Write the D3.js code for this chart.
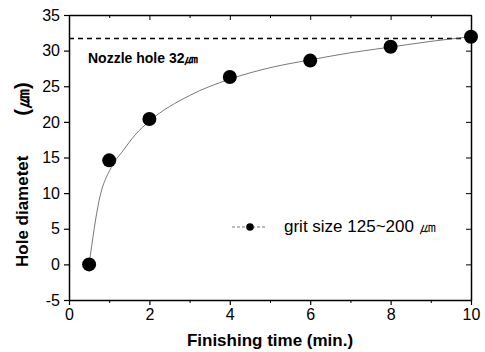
<!DOCTYPE html>
<html>
<head>
<meta charset="utf-8">
<script src="https://cdn.jsdelivr.net/npm/d3@7"></script>
<style>
  body { margin: 0; background: #fff; }
  svg text { font-family: "Liberation Sans", Arial, sans-serif; fill: #000; }
  .axis path, .axis line { stroke: #000; }
  .axis path { stroke-width: 1.5; }
</style>
</head>
<body>
<svg id="chart" width="485" height="352"></svg>
<script>
// measured points (finishing time in min, hole diameter in um)
var times = [0.5, 1, 2, 4, 6, 8, 10];
var diameters = [0, 14.6, 20.4, 26.3, 28.6, 30.55, 31.95];

// fitted curve
var fitTimes = [0.5, 0.75, 1.05, 1.35, 1.65, 2, 3, 4, 5, 6, 7, 8, 9, 10];
var fitValues = [0, 9.0, 13.6, 16.0, 18.2, 20.1, 23.7, 26.0, 27.6, 28.7, 29.7, 30.5, 31.3, 31.95];

var nozzleHole = 31.7;
var xTicks = [0, 2, 4, 6, 8, 10];
var xMinor = [1, 3, 5, 7, 9];
var yTicks = [-5, 0, 5, 10, 15, 20, 25, 30, 35];

var svg = d3.select("#chart"),
    plotLeft = 69, plotRight = 471, plotTop = 15, plotBottom = 300;

var x = d3.scaleLinear().domain([0, 10]).range([plotLeft, plotRight]);
var y = d3.scaleLinear().domain([-5, 35]).range([plotBottom, plotTop]);

// axes (left/bottom outward, top/right mirrored inward)
svg.append("g")
    .attr("class", "axis")
    .attr("transform", "translate(0," + plotBottom + ")")
    .call(d3.axisBottom(x).tickValues(xTicks).tickSizeInner(5).tickSizeOuter(0).tickPadding(4))
    .call(g => g.selectAll("text").attr("font-size", 16))
    .call(g => g.selectAll("line").attr("stroke-width", 1.2));
svg.append("g")
    .attr("class", "axis")
    .attr("transform", "translate(0," + plotBottom + ")")
    .call(d3.axisBottom(x).tickValues(xMinor).tickSize(3).tickFormat(""))
    .call(g => g.select("path").remove());

svg.append("g")
    .attr("class", "axis")
    .attr("transform", "translate(0," + plotTop + ")")
    .call(d3.axisTop(x).tickValues(xTicks).tickSizeInner(-5).tickSizeOuter(0).tickFormat(""));
svg.append("g")
    .attr("class", "axis")
    .attr("transform", "translate(0," + plotTop + ")")
    .call(d3.axisTop(x).tickValues(xMinor).tickSize(-3).tickFormat(""))
    .call(g => g.select("path").remove());

svg.append("g")
    .attr("class", "axis")
    .attr("transform", "translate(" + plotLeft + ",0)")
    .call(d3.axisLeft(y).tickValues(yTicks).tickFormat(d => String(d))
        .tickSizeInner(5).tickSizeOuter(0).tickPadding(4))
    .call(g => g.selectAll("text").attr("font-size", 16))
    .call(g => g.selectAll("line").attr("stroke-width", 1.2));

svg.append("g")
    .attr("class", "axis")
    .attr("transform", "translate(" + plotRight + ",0)")
    .call(d3.axisRight(y).tickValues(yTicks).tickSizeInner(-5).tickSizeOuter(0).tickFormat(""));

// nozzle hole reference
svg.append("line")
    .attr("x1", x(0)).attr("x2", x(10))
    .attr("y1", y(nozzleHole)).attr("y2", y(nozzleHole))
    .attr("stroke", "#000")
    .attr("stroke-width", 1.3)
    .attr("stroke-dasharray", "5,4");

svg.append("text")
    .attr("x", 88).attr("y", 63)
    .attr("font-size", 14)
    .attr("font-weight", "bold")
    .text("Nozzle hole 32㎛");

// fitted curve
var fit = fitTimes.map((t, i) => [t, fitValues[i]]);
svg.append("path")
    .datum(fit)
    .attr("fill", "none")
    .attr("stroke", "#555")
    .attr("stroke-width", 0.8)
    .attr("d", d3.line().x(d => x(d[0])).y(d => y(d[1])).curve(d3.curveMonotoneX));

// points
svg.selectAll("circle.pt")
    .data(times)
    .enter()
    .append("circle")
    .attr("class", "pt")
    .attr("r", 7)
    .attr("cx", d => x(d))
    .attr("cy", (d, i) => y(diameters[i]))
    .attr("fill", "#000");

// legend
var legend = svg.append("g").attr("transform", "translate(232,227)");
legend.append("line")
    .attr("x1", 0).attr("x2", 35)
    .attr("stroke", "#555")
    .attr("stroke-width", 0.8)
    .attr("stroke-dasharray", "3,2");
legend.append("circle").attr("cx", 18).attr("r", 3.8).attr("fill", "#000");
legend.append("text")
    .attr("x", 52).attr("y", 5)
    .attr("font-size", 17)
    .text("grit size 125~200 ㎛");

// axis titles
svg.append("text")
    .attr("x", (plotLeft + plotRight) / 2).attr("y", 346)
    .attr("text-anchor", "middle")
    .attr("font-size", 17)
    .attr("font-weight", "bold")
    .text("Finishing time (min.)");

svg.append("text")
    .attr("transform", "translate(28,267) rotate(-90)")
    .attr("font-size", 17)
    .attr("font-weight", "bold")
    .text("Hole diametet");
svg.append("text")
    .attr("transform", "translate(29,99) rotate(-90)")
    .attr("text-anchor", "middle")
    .attr("font-size", 20)
    .attr("font-weight", "bold")
    .text("(㎛)");
</script>
</body>
</html>
